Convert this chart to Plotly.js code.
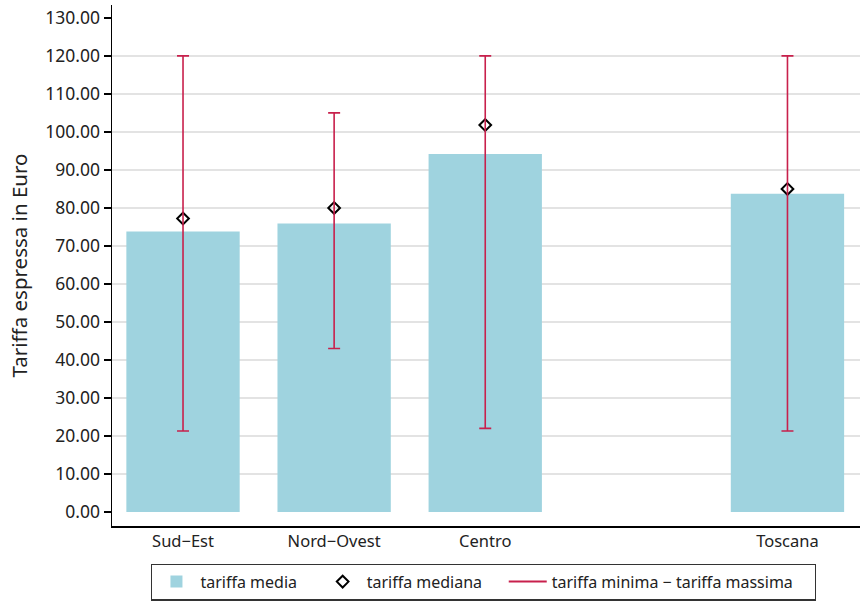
<!DOCTYPE html>
<html>
<head>
<meta charset="utf-8">
<script src="https://cdn.plot.ly/plotly-3.0.1.min.js"></script>
<style>html,body{margin:0;padding:0;background:#fff;}#chart{width:865px;height:602px;}</style>
</head>
<body>
<div id="chart"></div>
<script>
const categories = ['Sud\u2212Est', 'Nord\u2212Ovest', 'Centro', ' ', 'Toscana'];
const tariffaMedia = [73.8, 75.9, 94.2, null, 83.7];
const tariffaMediana = [77.2, 80.0, 101.8, null, 85.0];
const tariffaMinima = [21.3, 43.0, 22.0, null, 21.3];
const tariffaMassima = [120.0, 105.0, 120.0, null, 120.0];
const yTickVals = [0, 10, 20, 30, 40, 50, 60, 70, 80, 90, 100, 110, 120, 130];
const yGridVals = [10, 20, 30, 40, 50, 60, 70, 80, 90, 100, 110, 120];

const red = '#c8204c';
const font = 'Noto Sans, Open Sans, sans-serif';
const pad = '\u00a0\u00a0\u00a0\u00a0';

const traces = [
  {
    type: 'bar', x: categories, y: tariffaMedia, name: 'tariffa media' + pad,
    marker: {color: '#9fd3df', line: {width: 0}}, width: 0.75
  },
  {
    type: 'scatter', mode: 'markers', x: categories, y: tariffaMediana, name: 'tariffa mediana' + pad,
    marker: {symbol: 'diamond-open', size: 9, color: '#000', line: {width: 2, color: '#000'}}
  },
  {
    type: 'scatter', mode: 'markers', x: categories, y: tariffaMassima, showlegend: false,
    marker: {size: 0.1, opacity: 0},
    error_y: {
      type: 'data', symmetric: false,
      array: tariffaMassima.map(v => v === null ? null : 0),
      arrayminus: tariffaMassima.map((v, i) => v === null ? null : v - tariffaMinima[i]),
      color: red, thickness: 1.6, width: 6
    },
    hoverinfo: 'skip'
  },
  {
    type: 'scatter', mode: 'lines', x: [null], y: [null], name: 'tariffa minima \u2212 tariffa massima' + pad,
    line: {color: red, width: 2}
  },
  {
    type: 'scatter', mode: 'markers', x: [null], y: [null], yaxis: 'y2', showlegend: false, hoverinfo: 'skip'
  }
];

const yRange = [-3.7, 133.4];

const layout = {
  width: 865, height: 602,
  margin: {l: 112, r: 5, t: 5, b: 76, autoexpand: false},
  paper_bgcolor: '#fff', plot_bgcolor: '#fff',
  font: {family: font, size: 16, color: '#222'},
  showlegend: true,
  bargap: 0.25,
  xaxis: {
    type: 'category', categoryorder: 'array', categoryarray: categories,
    range: [-0.47, 4.48],
    showline: true, linecolor: '#000', linewidth: 1.5,
    ticks: '', showgrid: false, zeroline: false,
    tickfont: {family: font, size: 16.5, color: '#222'}
  },
  yaxis: {
    range: yRange,
    tickvals: yTickVals, ticktext: yTickVals.map(v => v.toFixed(2)),
    showline: true, linecolor: '#000', linewidth: 1.5,
    ticks: 'outside', ticklen: 7, tickcolor: '#000', tickwidth: 1.2,
    showgrid: false, zeroline: false,
    tickfont: {family: font, size: 17.5, color: '#222'},
    title: {text: 'Tariffa espressa in Euro', font: {family: font, size: 20.5, color: '#222'}, standoff: 12}
  },
  yaxis2: {
    overlaying: 'y', range: yRange, tickvals: yGridVals,
    showticklabels: false, ticks: '', showline: false, zeroline: false,
    showgrid: true, gridcolor: '#e3e3e3', gridwidth: 1.5
  },
  legend: {
    orientation: 'h', x: 0.497, xanchor: 'center', y: -0.072, yanchor: 'top',
    bordercolor: '#333', borderwidth: 1.2, bgcolor: '#fff',
    font: {family: font, size: 16, color: '#222'},
    itemwidth: 38, tracegroupgap: 0, traceorder: 'normal'
  }
};

Plotly.newPlot('chart', traces, layout, {displayModeBar: false, staticPlot: true});
</script>
</body>
</html>
